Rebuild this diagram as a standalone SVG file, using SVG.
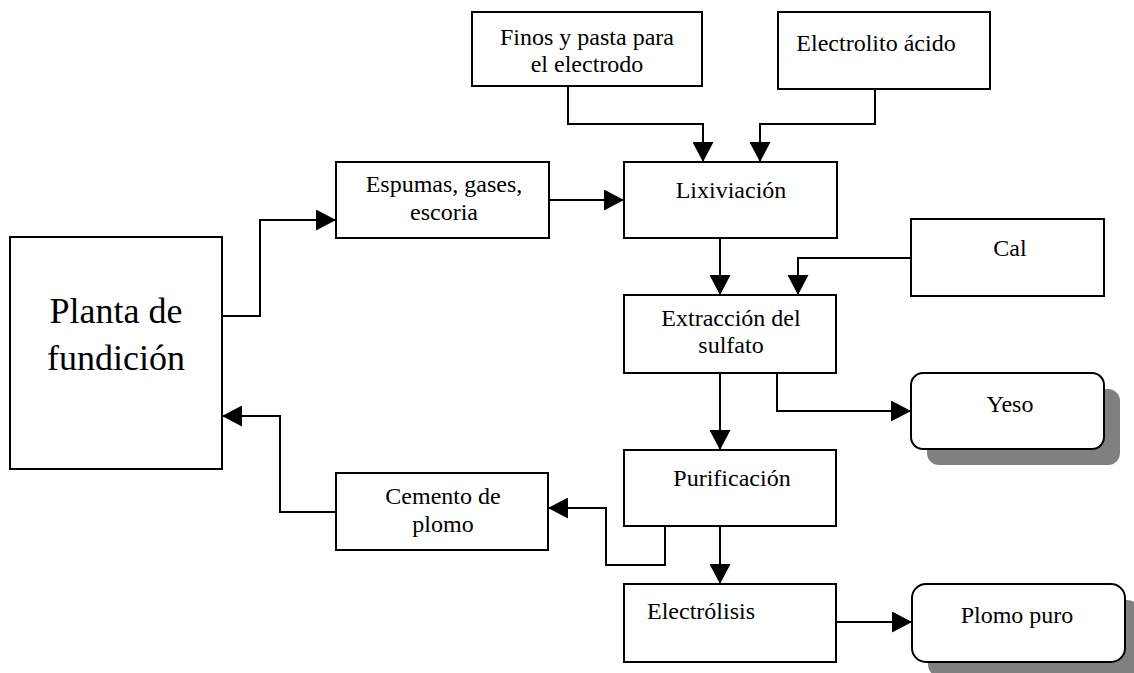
<svg xmlns="http://www.w3.org/2000/svg" width="1134" height="673" viewBox="0 0 1134 673">
<defs>
<marker id="arr" markerUnits="userSpaceOnUse" markerWidth="20" markerHeight="21" refX="20" refY="10.5" orient="auto">
<path d="M0,0 L20,10.5 L0,21 z" fill="#000"/>
</marker>
<style>
.box{fill:#fff;stroke:#000;stroke-width:2}
.shadow{fill:#808080;stroke:none}
.t{font-family:"Liberation Serif","Times New Roman",serif;font-size:24px;fill:#000;text-anchor:middle}
.big{font-size:36px}
.c{fill:none;stroke:#000;stroke-width:2;marker-end:url(#arr)}
</style>
</defs>
<rect width="1134" height="673" fill="#fff"/>
<g id="planta">
<rect class="box" x="10" y="237" width="212" height="232"/>
<text class="t big" x="116" y="323">Planta de</text>
<text class="t big" x="116" y="370">fundición</text>
</g>
<g id="finos">
<rect class="box" x="472" y="12" width="230" height="74"/>
<text class="t" x="587" y="45">Finos y pasta para</text>
<text class="t" x="587" y="72">el electrodo</text>
</g>
<g id="electrolito">
<rect class="box" x="778" y="12" width="212" height="77"/>
<text class="t" x="876" y="51">Electrolito ácido</text>
</g>
<g id="espumas">
<rect class="box" x="336" y="162" width="213" height="76"/>
<text class="t" x="444" y="192">Espumas, gases,</text>
<text class="t" x="444" y="220">escoria</text>
</g>
<g id="lixiviacion">
<rect class="box" x="624" y="162" width="213" height="76"/>
<text class="t" x="731" y="198">Lixiviación</text>
</g>
<g id="cal">
<rect class="box" x="911" y="219" width="193" height="77"/>
<text class="t" x="1010" y="256">Cal</text>
</g>
<g id="extraccion">
<rect class="box" x="624" y="295" width="212" height="78"/>
<text class="t" x="731" y="326">Extracción del</text>
<text class="t" x="731" y="353">sulfato</text>
</g>
<g id="yeso">
<rect class="shadow" x="927" y="389" width="193" height="76" rx="12"/>
<rect class="box" x="911" y="373" width="193" height="76" rx="12"/>
<text class="t" x="1010" y="412">Yeso</text>
</g>
<g id="purificacion">
<rect class="box" x="624" y="450" width="212" height="76"/>
<text class="t" x="732" y="486">Purificación</text>
</g>
<g id="cemento">
<rect class="box" x="336" y="473" width="212" height="77"/>
<text class="t" x="443" y="504">Cemento de</text>
<text class="t" x="443" y="532">plomo</text>
</g>
<g id="electrolisis">
<rect class="box" x="624" y="584" width="212" height="78"/>
<text class="t" x="647" y="619" style="text-anchor:start">Electrólisis</text>
</g>
<g id="plomo">
<rect class="shadow" x="928" y="600" width="213" height="78" rx="14"/>
<rect class="box" x="912" y="584" width="213" height="78" rx="14"/>
<text class="t" x="1017" y="623">Plomo puro</text>
</g>
<g id="connectors">
<path class="c" d="M568,86 V124 H703 V162"/>
<path class="c" d="M875,89 V124 H760 V162"/>
<path class="c" d="M549,200 H624"/>
<path class="c" d="M222,316 H260 V220 H336"/>
<path class="c" d="M720,238 V295"/>
<path class="c" d="M911,258 H798 V295"/>
<path class="c" d="M720,373 V450"/>
<path class="c" d="M777,373 V411 H911"/>
<path class="c" d="M665,526 V565 H606 V508 H548"/>
<path class="c" d="M720,526 V584"/>
<path class="c" d="M836,622 H912"/>
<path class="c" d="M336,512 H280 V416 H222"/>
</g>
</svg>
